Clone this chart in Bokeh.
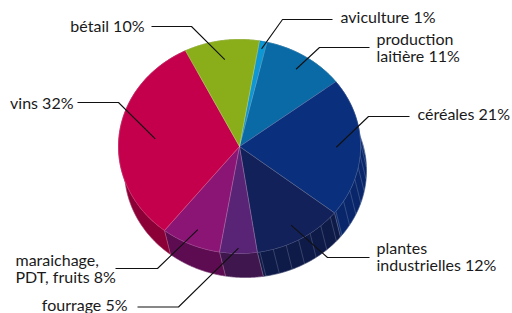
import numpy as np
from bokeh.plotting import figure
from bokeh.models import Range1d
from bokeh.embed import file_html
from bokeh.resources import INLINE
from bokeh.core.properties import value

# ---- data ----
categories = ["aviculture", "production laitière", "céréales", "plantes industrielles",
              "fourrage", "maraichage, PDT, fruits", "vins", "bétail"]
shares = [1, 11, 21, 12, 5, 8, 32, 10]
label_lines = [["aviculture 1%"], ["production", "laitière 11%"], ["céréales 21%"],
               ["plantes", "industrielles 12%"], ["fourrage 5%"],
               ["maraichage,", "PDT, fruits 8%"], ["vins 32%"], ["bétail 10%"]]

# ---- styles ----
top_colors = ["#0E97D5", "#0A6AA6", "#0A2F7D", "#13215A", "#5A2476", "#8A1575", "#C4004C", "#8AAE1A"]
side_colors = ["#0B78AA", "#08507F", "#082669", "#0E1A48", "#40164F", "#5E0C52", "#8C0038", "#6A8A12"]

# ---- layout (pixel space) ----
W, H = 512, 313
cx, cy, rx, ry = 239.0, 146.0, 121.0, 107.0
ddx, ddy = 6.0, 24.0
start_deg = 9.5
text_shift = -6.0
label_layout = [
    dict(elbow=(282, 19), hend=332, tx=340, align="left", base=[21.5], rf=0.93),
    dict(elbow=(319, 47), hend=369, tx=376, align="left", base=[43.5, 61], rf=0.86),
    dict(elbow=(368, 116), hend=409, tx=417, align="left", base=[118.5], rf=0.80),
    dict(elbow=(327, 257), hend=369, tx=376, align="left", base=[252.5, 269.5], rf=0.85),
    dict(elbow=(178, 306.5), hend=137, tx=127, align="right", base=[310], rf=0.95),
    dict(elbow=(157, 268), hend=115, tx=15, align="left", base=[264.5, 281.5], rf=0.85),
    dict(elbow=(118, 102), hend=77, tx=73, align="right", base=[108], rf=0.70),
    dict(elbow=(191, 26), hend=151, tx=144, align="right", base=[30.5], rf=0.82),
]

def pt(t, r=1.0):
    return cx + r * rx * np.sin(t), cy - r * ry * np.cos(t)

vals = np.array(shares, dtype=float)
ends = np.radians(start_deg) + np.cumsum(vals) / vals.sum() * 2 * np.pi
starts = ends - vals / vals.sum() * 2 * np.pi

p = figure(width=W, height=H, output_backend="svg", toolbar_location=None,
           x_range=Range1d(0, W), y_range=Range1d(H, 0), min_border=0)
p.axis.visible = False
p.grid.visible = False
p.outline_line_color = None
p.background_fill_color = "white"
p.border_fill_color = "white"

# side bands
sxs, sys_ = [], []
for a, b in zip(starts, ends):
    t = np.linspace(a, b, 80)
    x, y = pt(t)
    sxs.append(list(x) + list((x + ddx)[::-1]))
    sys_.append(list(y) + list((y + ddy)[::-1]))
p.patches(sxs, sys_, fill_color=side_colors, line_color=side_colors, line_width=0.6)
p.patches(sxs, sys_, fill_color=None, line_color="white", line_alpha=0.22, line_width=0.6)

# facet stripes on the side of the blue slices
stx0, sty0, stx1, sty1 = [], [], [], []
for i in (2, 3):
    for t in np.arange(starts[i] + np.radians(3), ends[i], np.radians(6.5)):
        nvis = 0.0496 * np.sin(t) - 0.224 * np.cos(t)
        if nvis <= 0.0:
            continue
        x0, y0 = pt(t)
        stx0.append(x0); sty0.append(y0); stx1.append(x0 + ddx); sty1.append(y0 + ddy)
p.segment(stx0, sty0, stx1, sty1, line_color="white", line_alpha=0.3, line_width=0.6)

# top face wedges
txs, tys = [], []
for a, b in zip(starts, ends):
    t = np.linspace(a, b, 120)
    x, y = pt(t)
    txs.append([cx] + list(x))
    tys.append([cy] + list(y))
p.patches(txs, tys, fill_color=top_colors, line_color=top_colors, line_width=0.5)
p.patches(txs, tys, fill_color=None, line_color="white", line_alpha=0.22, line_width=0.6)

# leader lines and labels
lx, ly = [], []
for i, lay in enumerate(label_layout):
    mid = (starts[i] + ends[i]) / 2
    ax, ay = pt(mid, lay["rf"])
    ex, ey = lay["elbow"]
    lx.append([ax, ex, lay["hend"]])
    ly.append([ay, ey, ey])
p.multi_line(lx, ly, line_color="#111111", line_width=1.1)

for i, lay in enumerate(label_layout):
    n = len(lay["base"])
    ys = [b + text_shift for b in lay["base"]]
    p.text(x=[lay["tx"]] * n, y=ys, text=label_lines[i],
           text_font=value("Lato"), text_font_size="16px", text_color="#1a1a1a",
           text_align=lay["align"], text_baseline="alphabetic")

open("out.html", "w").write(file_html(p, INLINE))
